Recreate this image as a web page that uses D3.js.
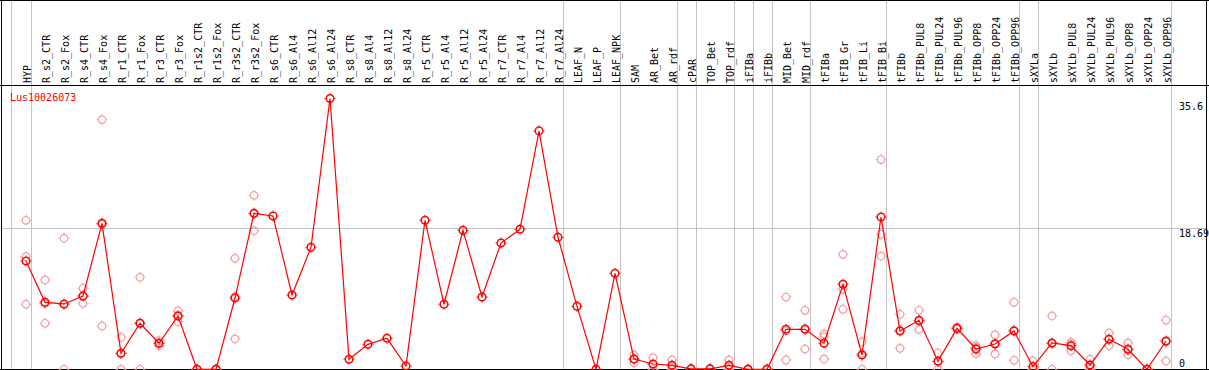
<!DOCTYPE html>
<html>
<head>
<meta charset="utf-8">
<script src="https://cdn.jsdelivr.net/npm/d3@7"></script>
<style>
  body { margin: 0; background: #fff; }
  svg text { font-family: "DejaVu Sans Mono", monospace; font-size: 10px; }
</style>
</head>
<body>
<div id="chart"></div>
<script>
// gene expression profile, one column per sample

const width = 1209;
const height = 370;

const gene = "Lus10026073";

const categories = [
  "HYP", "R_s2_CTR", "R_s2_Fox", "R_s4_CTR", "R_s4_Fox", "R_r1_CTR", "R_r1_Fox",
  "R_r3_CTR", "R_r3_Fox", "R_r1s2_CTR", "R_r1s2_Fox", "R_r3s2_CTR", "R_r3s2_Fox",
  "R_s6_CTR", "R_s6_Al4", "R_s6_Al12", "R_s6_Al24", "R_s8_CTR", "R_s8_Al4",
  "R_s8_Al12", "R_s8_Al24", "R_r5_CTR", "R_r5_Al4", "R_r5_Al12", "R_r5_Al24",
  "R_r7_CTR", "R_r7_Al4", "R_r7_Al12", "R_r7_Al24", "LEAF_N", "LEAF_P", "LEAF_NPK",
  "SAM", "AR_Bet", "AR_rdf", "cPAR", "TOP_Bet", "TOP_rdf", "iFIBa", "iFIBb",
  "MID_Bet", "MID_rdf", "tFIBa", "tFIB_Gr", "tFIB_Li", "tFIB_Bi", "tFIBb",
  "tFIBb_PUL8", "tFIBb_PUL24", "tFIBb_PUL96", "tFIBb_OPP8", "tFIBb_OPP24", "tFIBb_OPP96",
  "sXYLa", "sXYLb", "sXYLb_PUL8", "sXYLb_PUL24", "sXYLb_PUL96", "sXYLb_OPP8",
  "sXYLb_OPP24", "sXYLb_OPP96"
];

// mean expression per sample
const means = [
  14.36, 8.88, 8.66, 9.72, 19.35, 2.12, 6.10, 3.45, 7.07, 0, 0, 9.45, 20.68,
  20.32, 9.85, 16.17, 35.9, 1.33, 3.31, 4.11, 0.44, 19.75, 8.62, 18.42, 9.58,
  16.74, 18.56, 31.6, 17.50, 8.35, 0, 12.73,
  1.37, 0.70, 0.53, 0.05, 0.05, 0.53, 0, 0,
  5.30, 5.30, 3.45, 11.27, 1.90, 20.19, 5.08,
  6.49, 1.06, 5.43, 2.69, 3.35, 5.08,
  0.35, 3.49, 3.13, 0.57, 3.98, 2.65, 0, 3.75
];

// biological replicates (empty where only one value)
const replicates = [
  [19.75, 14.93, 8.62], [11.84, 6.10, 8.70], [17.37, 0, 8.6], [10.74, 8.75, 9.67],
  [33.1, 5.74, 19.2], [4.24, 0, 2.12], [12.2, 0, 6.1], [3.79, 3.13, 3.45],
  [7.73, 6.31, 7.17], [0, 0, 0], [0, 0, 0], [14.71, 4.02, 9.62], [23.06, 18.37, 20.6],
  [], [], [], [], [], [], [], [], [], [], [], [], [], [], [], [], [], [], [],
  [1.9, 0.87, 1.34], [1.54, 0.56, 0], [1.23, 0.36, 0], [0.1, 0.05, 0], [0.1, 0.05, 0],
  [1.23, 0.36, 0], [0, 0, 0], [0, 0, 0],
  [9.58, 1.23, 5.09], [7.82, 2.69, 5.39], [4.68, 4.32, 1.37], [15.24, 7.95, 10.6],
  [3.62, 0, 2.08], [27.8, 17.9, 15.0], [7.29, 2.78, 5.17],
  [7.82, 5.30, 6.35], [2.16, 0, 1.02], [5.6, 5.4, 5.3], [3.13, 2.07, 2.87],
  [4.55, 2.03, 3.47], [8.88, 1.19, 5.17],
  [1.10, 0, 0], [7.07, 0, 3.4], [3.58, 2.43, 3.38], [1.33, 0.35, 0],
  [4.81, 3.13, 4.0], [3.49, 1.94, 2.52], [0, 0, 0], [6.53, 1.10, 3.62]
];

// separator lines are drawn after these sample groups
const groupEnds = ["HYP", "R_r7_Al24", "LEAF_NPK", "AR_rdf", "cPAR", "TOP_rdf",
  "iFIBa", "iFIBb", "MID_rdf", "tFIB_Bi", "tFIBb_OPP96", "sXYLa", "sXYLb_OPP96"];

const yTicks = [0, 18.69, 35.6];
const gridTicks = [18.69];

const headerBottom = 85.5;
const RED = "#ff0000";
const PINK = "#f0a0a0";
const GRAY = "#c4c4c4";

const x = d3.scalePoint().domain(categories).range([26, 1166]);
const y = d3.scaleLinear().domain([0, 18.69]).range([369.3, 228.3]);

function marker(sel, color, sw) {
  sel.append("circle").attr("r", 3.8)
    .attr("fill", "none").attr("stroke", color).attr("stroke-width", sw);
  // little pixel ticks around the ring
  [[0, -1], [0, 1], [-1, 0], [1, 0]].forEach(([dx, dy]) => {
    sel.append("line")
      .attr("x1", dx * 4.3).attr("y1", dy * 4.3)
      .attr("x2", dx * 5.5).attr("y2", dy * 5.5)
      .attr("stroke", color).attr("stroke-width", 1);
  });
}

function main() {
  const svg = d3.select("#chart").append("svg")
    .attr("width", width)
    .attr("height", height);

  // vertical separators
  svg.append("line")
    .attr("x1", 11.5).attr("x2", 11.5).attr("y1", 0).attr("y2", height)
    .attr("stroke", GRAY).attr("stroke-width", 1);
  svg.selectAll("line.sep").data(groupEnds).join("line")
    .attr("class", "sep")
    .attr("x1", d => Math.round(x(d) + 4.7) + 0.5)
    .attr("x2", d => Math.round(x(d) + 4.7) + 0.5)
    .attr("y1", 0).attr("y2", height)
    .attr("stroke", GRAY).attr("stroke-width", 1);

  // horizontal grid
  svg.selectAll("line.grid").data(gridTicks).join("line")
    .attr("class", "grid")
    .attr("x1", 1).attr("x2", 1207)
    .attr("y1", d => Math.round(y(d)) + 0.5).attr("y2", d => Math.round(y(d)) + 0.5)
    .attr("stroke", GRAY).attr("stroke-width", 1);

  // frame
  const frame = [[0, 0.5, width, 0.5], [0, headerBottom, width, headerBottom],
    [0, 369.5, width, 369.5], [1.5, 0, 1.5, height], [1206.5, 0, 1206.5, height]];
  svg.selectAll("line.frame").data(frame).join("line")
    .attr("class", "frame")
    .attr("x1", d => d[0]).attr("y1", d => d[1])
    .attr("x2", d => d[2]).attr("y2", d => d[3])
    .attr("stroke", "#000").attr("stroke-width", 1);

  // column labels, rotated
  svg.selectAll("text.cat").data(categories).join("text")
    .attr("class", "cat")
    .attr("transform", d => `translate(${x(d) + 4.5},83) rotate(-90)`)
    .attr("fill", "#000")
    .text(d => d);

  // y labels on the right
  svg.selectAll("text.tick").data(yTicks).join("text")
    .attr("class", "tick")
    .attr("x", 1179)
    .attr("y", d => Math.min(y(d) + 9, 366.5))
    .attr("fill", "#000")
    .text(d => d);

  svg.append("text")
    .attr("x", 10).attr("y", 101)
    .attr("fill", RED)
    .text(gene);

  // replicate points
  const reps = [];
  replicates.forEach((r, i) => r.forEach(v => reps.push({ c: categories[i], v: v })));
  svg.append("g").selectAll("g").data(reps).join("g")
    .attr("transform", d => `translate(${x(d.c)},${y(d.v)})`)
    .each(function () { marker(d3.select(this), PINK, 1.2); });

  // mean line
  const line = d3.line()
    .x((d, i) => x(categories[i]))
    .y(d => y(d));
  svg.append("path")
    .attr("d", line(means))
    .attr("fill", "none")
    .attr("stroke", RED)
    .attr("stroke-width", 1.2);

  svg.append("g").selectAll("g").data(means).join("g")
    .attr("transform", (d, i) => `translate(${x(categories[i])},${y(d)})`)
    .each(function () { marker(d3.select(this), RED, 1.5); });
}

main();
</script>
</body>
</html>
